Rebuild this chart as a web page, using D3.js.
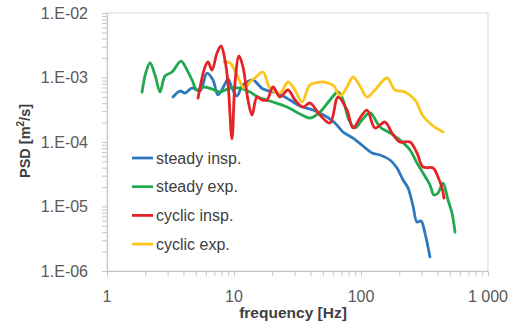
<!DOCTYPE html>
<html><head><meta charset="utf-8">
<script src="https://cdn.jsdelivr.net/npm/d3@7"></script>
<style>
body{margin:0;background:#fff;}
svg{display:block;font-family:"Liberation Sans",Arial,sans-serif;}
</style></head>
<body><svg id="c" width="521" height="329"></svg>
<script>
// ---- data ----
const seriesNames = ["steady insp.", "steady exp.", "cyclic insp.", "cyclic exp."];
const steadyInspF = [3.31,3.76,4.11,4.67,5.40,6.13,6.83,7.48,8.49,8.97,9.64,10.56,11.56,12.66,14.11,16.92,21.81,27.6,33.1,41.9,54.0,62.4,72.2,86.5,103.7,122.1,141.1,169.2,192.1,214.2,234.5,256.8,276.0,296.8,319.0,337.0,349.4];
const steadyInspV = [4.98e-4,6.17e-4,5.75e-4,6.87e-4,6.17e-4,1.17e-3,9.15e-4,5.36e-4,7.93e-4,9.48e-4,6.87e-4,5.17e-4,7.38e-4,8.51e-4,9.15e-4,6.63e-4,5.75e-4,4.48e-4,3.61e-4,3.13e-4,2.44e-4,1.97e-4,1.43e-4,1.15e-4,8.67e-5,6.75e-5,6.29e-5,5.26e-5,3.95e-5,2.58e-5,1.94e-5,1.02e-5,5.75e-6,5.96e-6,3.88e-6,2.35e-6,1.65e-6];
const steadyExpF = [1.887,2.028,2.181,2.388,2.615,2.862,3.249,3.825,4.265,4.67,5.11,5.70,6.71,7.76,9.30,11.15,13.37,15.45,20.28,26.15,33.1,39.67,47.55,57.0,65.9,72.2,80.4,89.7,101.8,117.7,141.1,169.2,202.8,243.1,276.0,307.7,349.4,375.6,404.0,442.3,484.2,520.6,549.8];
const steadyExpV = [5.96e-4,1.217e-3,1.678e-3,1.093e-3,5.96e-4,1.055e-3,1.217e-3,1.80e-3,1.307e-3,9.15e-4,6.40e-4,7.12e-4,6.63e-4,5.96e-4,6.87e-4,6.87e-4,5.96e-4,4.98e-4,4.17e-4,3.49e-4,2.72e-4,2.35e-4,2.92e-4,4.48e-4,5.96e-4,4.48e-4,2.19e-4,1.65e-4,2.19e-4,2.82e-4,1.71e-4,1.38e-4,1.07e-4,7.52e-5,4.72e-5,3.31e-5,2.15e-5,1.51e-5,1.62e-5,2.31e-5,1.26e-5,7.93e-6,4.02e-6];
const cyclicInspF = [5.21,5.91,6.24,6.71,7.35,7.90,8.49,8.97,9.64,10.18,10.95,11.77,12.89,13.86,15.18,16.61,18.19,20.28,23.03,26.62,30.22,34.94,39.67,47.55,57.0,65.9,77.6,86.5,98.2,111.5,128.9,154.5,175.4,202.8,243.1,276.0,307.7,368.9,404.0,434.3,450.3];
const cyclicInspV = [4.81e-4,1.455e-3,1.739e-3,1.307e-3,2.40e-3,3.08e-3,1.867e-3,8.22e-4,1.113e-4,8.22e-4,2.154e-3,1.455e-3,4.48e-4,2.62e-4,4.98e-4,4.48e-4,4.48e-4,7.12e-4,4.98e-4,6.40e-4,4.48e-4,3.49e-4,4.02e-4,2.62e-4,1.97e-4,4.98e-4,3.13e-4,1.65e-4,2.35e-4,3.13e-4,1.65e-4,2.04e-4,1.38e-4,1.0e-4,1.0e-4,6.75e-5,4.10e-5,3.95e-5,2.87e-5,1.94e-5,1.35e-5];
const cyclicExpF = [8.34,9.30,10.56,11.99,13.37,14.91,16.92,19.21,23.03,26.62,30.22,34.31,39.67,47.55,55.0,61.3,68.3,77.6,86.5,98.2,111.5,128.9,160.2,185.2,222.0,266.2,307.7,362.3,442.3];
const cyclicExpV = [1.739e-3,1.678e-3,1.093e-3,6.87e-4,8.51e-4,1.018e-3,1.217e-3,6.87e-4,5.75e-4,8.51e-4,6.40e-4,4.17e-4,7.65e-4,8.51e-4,8.22e-4,7.38e-4,5.17e-4,7.12e-4,1.018e-3,7.38e-4,4.98e-4,6.40e-4,9.82e-4,6.40e-4,5.96e-4,4.48e-4,2.53e-4,1.835e-4,1.43e-4];
const yTickValues = [1e-6,1e-5,1e-4,1e-3,1e-2];
const yTickLabels = ["1.E-06","1.E-05","1.E-04","1.E-03","1.E-02"];
const xTickValues = [1,10,100,1000];
const xTickLabels = ["1","10","100","1 000"];
const colors = ["#2f78bd","#20a94e","#e52327","#fbc51b"];

const series = [
  {name:seriesNames[0], f:steadyInspF, v:steadyInspV},
  {name:seriesNames[1], f:steadyExpF, v:steadyExpV},
  {name:seriesNames[2], f:cyclicInspF, v:cyclicInspV},
  {name:seriesNames[3], f:cyclicExpF, v:cyclicExpV}
];

const svg = d3.select("#c");
const L=107, R=488, T=13, B=271;
const x = d3.scaleLog().domain([1,1000]).range([L,R]);
const y = d3.scaleLog().domain([1e-6,1e-2]).range([B,T]);
const axisCol = "#c8c8c8", textCol = "#595959";

// plot border
svg.append("rect").attr("x",L).attr("y",T).attr("width",R-L).attr("height",B-T)
  .attr("fill","none").attr("stroke","#d9d9d9").attr("stroke-width",1);

// minor tick values
const yMinor=[], xMinor=[];
for(let e=-6;e<-2;e++) for(let m=1;m<10;m++) yMinor.push(m*Math.pow(10,e));
yMinor.push(1e-2);
for(let e=0;e<3;e++) for(let m=1;m<10;m++) xMinor.push(m*Math.pow(10,e));
xMinor.push(1000);

const yAx = svg.append("g").attr("transform",`translate(${L},0)`)
  .call(d3.axisLeft(y).tickValues(yMinor).tickSize(5).tickFormat(""));
yAx.selectAll("path,line").attr("stroke",axisCol);
const xAx = svg.append("g").attr("transform",`translate(0,${B})`)
  .call(d3.axisBottom(x).tickValues(xMinor).tickSize(5).tickFormat(""));
xAx.selectAll("path,line").attr("stroke",axisCol);

// tick labels
svg.append("g").selectAll("text").data(yTickValues).join("text")
  .attr("x",88).attr("y",d=>y(d)).attr("dy","0.35em").attr("text-anchor","end")
  .attr("font-size",16).attr("fill",textCol).text((d,i)=>yTickLabels[i]);
svg.append("g").selectAll("text").data(xTickValues).join("text")
  .attr("x",d=>x(d)).attr("y",302).attr("text-anchor","middle")
  .attr("font-size",16).attr("fill",textCol).text((d,i)=>xTickLabels[i]);

// axis titles
svg.append("text").attr("x",293).attr("y",318).attr("text-anchor","middle")
  .attr("font-size",15.5).attr("font-weight","bold").attr("fill","#404040").text("frequency [Hz]");
const yt = svg.append("text").attr("transform","translate(30,141) rotate(-90)").attr("text-anchor","middle")
  .attr("font-size",14.5).attr("font-weight","bold").attr("fill","#404040");
yt.append("tspan").text("PSD [m");
yt.append("tspan").attr("font-size",10).attr("dy",-6).text("2");
yt.append("tspan").attr("dy",6).text("/s]");

// lines
const line = d3.line().x(d=>x(d[0])).y(d=>y(d[1])).curve(d3.curveCatmullRom.alpha(0.5));
const order = [0,1,3,2];
const g = svg.append("g");
order.forEach(i=>{
  const s = series[i];
  const pts = s.f.map((f,k)=>[f,s.v[k]]);
  g.append("path").attr("d",line(pts)).attr("fill","none").attr("stroke",colors[i])
    .attr("stroke-width",2.8).attr("stroke-linejoin","round").attr("stroke-linecap","round");
});

// legend
const lg = svg.append("g");
series.forEach((s,i)=>{
  const yy = 158 + i*28.7;
  lg.append("line").attr("x1",132).attr("x2",153).attr("y1",yy).attr("y2",yy)
    .attr("stroke",colors[i]).attr("stroke-width",2.8);
  lg.append("text").attr("x",156).attr("y",yy).attr("dy","0.35em")
    .attr("font-size",16).attr("fill","#404040").text(s.name);
});
</script></body></html>
